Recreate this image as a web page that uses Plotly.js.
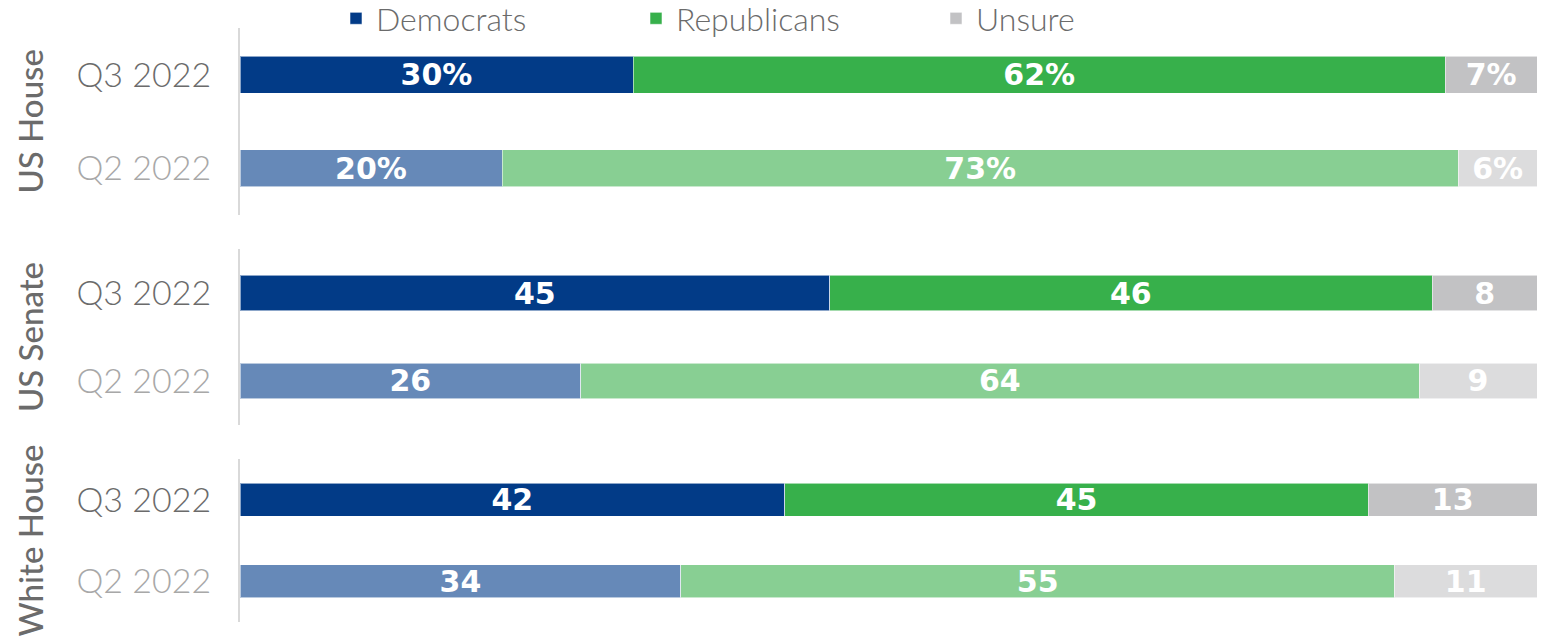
<!DOCTYPE html>
<html>
<head>
<meta charset="utf-8">
<script src="https://cdn.plot.ly/plotly-3.0.1.min.js"></script>
<style>
  html, body { margin: 0; padding: 0; background: #ffffff; }
  #chart { width: 1550px; height: 641px; }
</style>
</head>
<body>
<div id="chart"></div>
<script>
// ---- data ----
var groups = ['US House', 'US Senate', 'White House'];
var periods = ['Q3 2022', 'Q2 2022'];
var parties = ['Democrats', 'Republicans', 'Unsure'];

var democratsQ3 = [30, 45, 42];
var democratsQ2 = [20, 26, 34];
var republicansQ3 = [62, 46, 45];
var republicansQ2 = [73, 64, 55];
var unsureQ3 = [7, 8, 13];
var unsureQ2 = [6, 9, 11];
var labelSuffix = ['%', '', ''];

// ---- styles ----
var colorsQ3 = ['#023B87', '#37B04B', '#C2C2C4'];
var colorsQ2 = ['#6689B8', '#88CF93', '#DCDCDD'];
var font = 'Lato, "Open Sans", sans-serif';
var boldFont = '"DejaVu Sans", sans-serif';

var seriesQ3 = [democratsQ3, republicansQ3, unsureQ3];
var seriesQ2 = [democratsQ2, republicansQ2, unsureQ2];

var domains = [
  [0.6646, 0.9563],
  [0.3370, 0.6115],
  [0.0296, 0.2839]
];
var xDomain = [240 / 1550, 1537 / 1550];

var traces = [];
groups.forEach(function (g, gi) {
  var sfx = gi === 0 ? '' : String(gi + 1);
  parties.forEach(function (p, pi) {
    var vals = [seriesQ3[pi][gi], seriesQ2[pi][gi]];
    traces.push({
      type: 'bar',
      orientation: 'h',
      name: p,
      legendgroup: p,
      showlegend: gi === 0,
      y: periods,
      x: vals,
      xaxis: 'x' + sfx,
      yaxis: 'y' + sfx,
      text: vals.map(function (v) { return v + labelSuffix[gi]; }),
      textposition: 'inside',
      insidetextanchor: 'middle',
      textangle: 0,
      constraintext: 'none',
      textfont: { family: boldFont, size: 30, color: '#ffffff', weight: 700 },
      marker: {
        color: [colorsQ3[pi], colorsQ2[pi]],
        line: { color: 'rgba(255,255,255,0.55)', width: 1 }
      },
      hoverinfo: 'skip'
    });
  });
});

var layout = {
  width: 1550,
  height: 641,
  margin: { l: 0, r: 0, t: 0, b: 0, autoexpand: false },
  paper_bgcolor: '#ffffff',
  plot_bgcolor: '#ffffff',
  barmode: 'stack',
  barnorm: 'percent',
  bargap: 0.6,
  showlegend: true,
  legend: {
    orientation: 'h',
    x: 336 / 1550,
    xanchor: 'left',
    y: 1 + 9 / 641,
    yanchor: 'top',
    entrywidth: 255,
    font: { family: font, size: 32, color: '#6b6b6b', weight: 300 },
    traceorder: 'normal'
  },
  annotations: [],
  font: { family: font }
};

groups.forEach(function (g, gi) {
  var sfx = gi === 0 ? '' : String(gi + 1);
  layout['xaxis' + sfx] = {
    domain: xDomain,
    range: [0, 100],
    anchor: 'y' + sfx,
    visible: false,
    fixedrange: true
  };
  layout['yaxis' + sfx] = {
    domain: domains[gi],
    anchor: 'x' + sfx,
    type: 'category',
    autorange: 'reversed',
    tickmode: 'array',
    tickvals: periods,
    ticktext: [
      '<span style="color:#6b6b6b">' + periods[0] + '</span>',
      '<span style="color:#a8a8a8">' + periods[1] + '</span>'
    ],
    tickfont: { family: font, size: 34, color: '#6b6b6b', weight: 300 },
    ticks: '',
    ticklabelstandoff: 20,
    showline: true,
    linecolor: '#d9d9d9',
    linewidth: 2,
    showgrid: false,
    zeroline: false,
    fixedrange: true
  };
  layout.annotations.push({
    text: g,
    xref: 'paper',
    yref: 'paper',
    x: 30 / 1550,
    y: (domains[gi][0] + domains[gi][1]) / 2,
    xanchor: 'center',
    yanchor: 'middle',
    textangle: -90,
    showarrow: false,
    font: { family: font, size: 33, color: '#6b6b6b', weight: 500 }
  });
});

Plotly.newPlot('chart', traces, layout, { displayModeBar: false, staticPlot: true });
</script>
</body>
</html>
